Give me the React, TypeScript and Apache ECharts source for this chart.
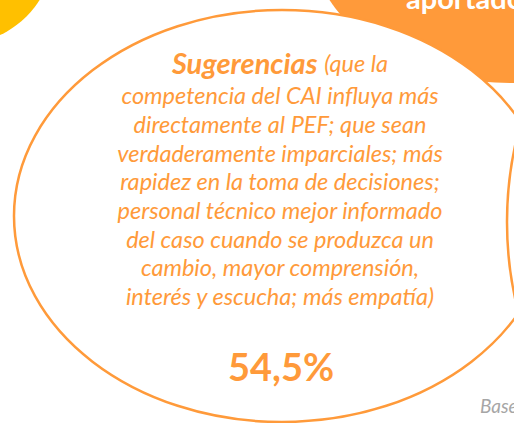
import React, { useEffect, useRef } from "react";
import * as echarts from "echarts";

const titleWord = "Sugerencias";
const titleRest = "(que la";
const bodyLines = [
  "competencia del CAI influya más",
  "directamente al PEF; que sean",
  "verdaderamente imparciales; más",
  "rapidez en la toma de decisiones;",
  "personal técnico mejor informado",
  "del caso cuando se produzca un",
  "cambio, mayor comprensión,",
  "interés y escucha; más empatía)",
];
const shareLabel = "54,5%";
const cornerLabel = "aportado";
const baseLabel = "Base";

const ORANGE = "#FF9A3A";
const FONT = "Lato, 'Open Sans', sans-serif";

export default function App() {
  const ref = useRef<HTMLDivElement>(null);
  useEffect(() => {
    if (!ref.current) return;
    const chart = echarts.init(ref.current, null, { renderer: "svg" });
    const cx = 282;
    const lineGap = 28.7;
    const firstBase = 77;
    const elements: any[] = [
      {
        type: "circle",
        shape: { cx: -40, cy: -50, r: 94 },
        style: { fill: "#FFC000" },
        z: 1,
      },
      {
        type: "ellipse",
        shape: { cx: 512, cy: -60, rx: 201, ry: 143 },
        style: { fill: ORANGE },
        z: 2,
      },
      {
        type: "text",
        style: {
          text: cornerLabel,
          x: 406,
          y: 12,
          fill: "#FFFFFF",
          font: `bold 29px ${FONT}`,
          textAlign: "left",
          textVerticalAlign: "bottom",
        },
        z: 3,
      },
      {
        type: "ellipse",
        shape: { cx: cx, cy: 216, rx: 268, ry: 206 },
        style: { fill: "#FFFFFF", stroke: ORANGE, lineWidth: 2.5 },
        z: 4,
      },
      {
        type: "ellipse",
        shape: { cx: 737, cy: 222, rx: 230, ry: 290 },
        style: { fill: "#FFFFFF", stroke: ORANGE, lineWidth: 2.5 },
        z: 5,
      },
      {
        type: "text",
        style: {
          text: `{b|${titleWord}}  {r|${titleRest}}`,
          x: 280,
          y: firstBase,
          textAlign: "center",
          textVerticalAlign: "bottom",
          rich: {
            b: { font: `italic bold 29px ${FONT}`, fill: ORANGE },
            r: { font: `italic 23.5px ${FONT}`, fill: ORANGE },
          },
        },
        z: 6,
      },
    ];
    bodyLines.forEach((line, i) => {
      elements.push({
        type: "text",
        style: {
          text: line,
          x: 280,
          y: 73 + (i + 1) * lineGap + 5,
          fill: ORANGE,
          font: `italic 23.5px ${FONT}`,
          textAlign: "center",
          textVerticalAlign: "bottom",
        },
        z: 6,
      });
    });
    elements.push({
      type: "text",
      style: {
        text: shareLabel,
        x: 281,
        y: 385,
        fill: ORANGE,
        font: `bold 38px ${FONT}`,
        textAlign: "center",
        textVerticalAlign: "bottom",
      },
      z: 6,
    });
    elements.push({
      type: "text",
      style: {
        text: baseLabel,
        x: 480,
        y: 415,
        fill: "#A6A6A6",
        font: `italic 19px ${FONT}`,
        textAlign: "left",
        textVerticalAlign: "bottom",
      },
      z: 6,
    });
    chart.setOption({
      animation: false,
      backgroundColor: "#FFFFFF",
      graphic: { elements },
    });
    return () => chart.dispose();
  }, []);
  return (
    <div
      ref={ref}
      style={{ position: "fixed", left: 0, top: 0, width: 514, height: 423 }}
    />
  );
}
